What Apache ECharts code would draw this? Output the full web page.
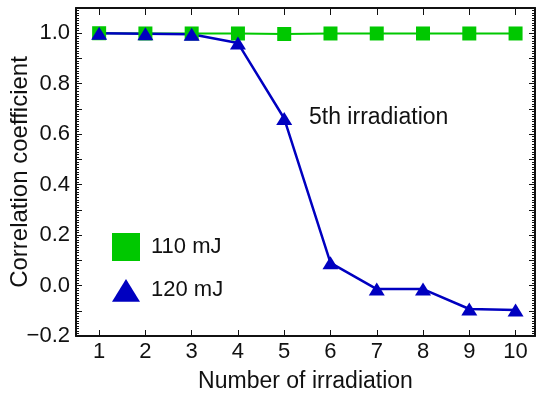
<!DOCTYPE html>
<html>
<head>
<meta charset="utf-8">
<script src="https://cdn.jsdelivr.net/npm/echarts@6/dist/echarts.min.js"></script>
<style>
  html, body { margin: 0; padding: 0; background: #fff; }
  #chart { width: 537px; height: 399px; }
</style>
</head>
<body>
<div id="chart"></div>
<script>
// number of the irradiation shot
const shots = [1, 2, 3, 4, 5, 6, 7, 8, 9, 10];
// correlation coefficient, 110 mJ
const corr110 = [1.0, 0.999, 0.999, 0.999, 0.997, 0.999, 0.999, 0.999, 0.999, 0.999];
// correlation coefficient, 120 mJ
const corr120 = [1.0, 0.998, 0.996, 0.961, 0.662, 0.09, -0.014, -0.014, -0.093, -0.097];
// labelled values on the y axis
const yLabels = [-0.2, 0.0, 0.2, 0.4, 0.6, 0.8, 1.0];

const font = "'Liberation Sans', Arial, sans-serif";
const ink = '#111';
const green = '#00c800';
const blue = '#0000c0';

const chart = echarts.init(document.getElementById('chart'));

const xBase = {
  type: 'value',
  min: 0.5,
  max: 10.42,
  splitLine: { show: false },
  axisLine: { show: true, onZero: false, lineStyle: { color: ink, width: 2 } }
};
const yBase = {
  type: 'value',
  min: -0.2,
  max: 1.1,
  interval: 0.1,
  splitLine: { show: false },
  minorSplitLine: { show: false },
  axisLine: { show: true, onZero: false, lineStyle: { color: ink, width: 2 } },
  axisTick: { show: true, inside: true, length: 6, lineStyle: { color: ink, width: 1 } },
  minorTick: { show: true, splitNumber: 10, length: 3, lineStyle: { color: ink, width: 1 } }
};

const fmtY = (v) => {
  const hit = yLabels.find(l => Math.abs(l - v) < 1e-6);
  if (hit === undefined) return '';
  return (hit < 0 ? '\u2212' : '') + Math.abs(hit).toFixed(1);
};

const option = {
  animation: false,
  backgroundColor: '#fff',
  textStyle: { fontFamily: font },
  grid: { left: 76, right: 2, top: 8, bottom: 63, containLabel: false, outerBoundsMode: 'none' },
  legend: {
    orient: 'vertical',
    left: 107,
    top: 228,
    itemWidth: 28,
    itemHeight: 28,
    itemGap: 18,
    selectedMode: false,
    textStyle: { fontFamily: font, fontSize: 22, color: ink, padding: [0, 0, 0, 6] },
    data: [
      { name: '110 mJ', icon: 'rect' },
      { name: '120 mJ', icon: 'path://M0,22 L13.5,0 L27,22 Z' }
    ]
  },
  graphic: [{
    type: 'text',
    left: 309,
    top: 106,
    style: { text: '5th irradiation', fontFamily: font, fontSize: 23, fill: ink }
  }],
  xAxis: [
    Object.assign({}, xBase, {
      position: 'bottom',
      name: 'Number of irradiation',
      nameLocation: 'middle',
      nameGap: 34,
      nameMoveOverlap: false,
      nameTextStyle: { fontFamily: font, fontSize: 23, color: ink },
      axisTick: { show: true, inside: true, length: 6, customValues: shots, lineStyle: { color: ink, width: 1 } },
      axisLabel: { show: true, customValues: shots, margin: 5, fontFamily: font, fontSize: 22, color: ink }
    }),
    Object.assign({}, xBase, {
      position: 'top',
      axisTick: { show: true, inside: true, length: 7, customValues: shots, lineStyle: { color: ink, width: 1 } },
      axisLabel: { show: false }
    })
  ],
  yAxis: [
    Object.assign({}, yBase, {
      position: 'left',
      name: 'Correlation coefficient',
      nameLocation: 'middle',
      nameGap: 44,
      nameMoveOverlap: false,
      nameTextStyle: { fontFamily: font, fontSize: 24, color: ink },
      axisLabel: { show: true, margin: 6, fontFamily: font, fontSize: 22, color: ink, formatter: fmtY }
    }),
    Object.assign({}, yBase, {
      position: 'right',
      axisLabel: { show: false }
    })
  ],
  series: [
    {
      name: '110 mJ',
      type: 'line',
      xAxisIndex: 0,
      yAxisIndex: 0,
      data: shots.map((s, i) => [s, corr110[i]]),
      symbol: 'rect',
      symbolSize: 14,
      itemStyle: { color: green },
      lineStyle: { color: green, width: 2 }
    },
    {
      name: '120 mJ',
      type: 'line',
      xAxisIndex: 0,
      yAxisIndex: 0,
      data: shots.map((s, i) => [s, corr120[i]]),
      symbol: 'triangle',
      symbolSize: [16, 13],
      itemStyle: { color: blue },
      lineStyle: { color: blue, width: 2.5 }
    }
  ]
};

chart.setOption(option);
</script>
</body>
</html>
